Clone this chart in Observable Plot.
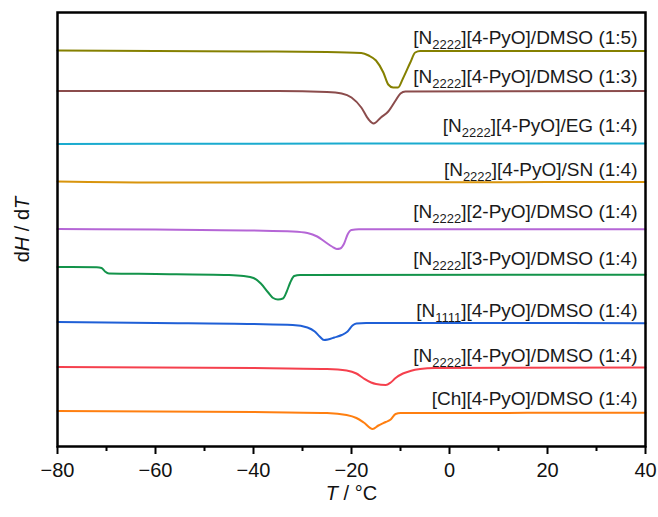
<!DOCTYPE html>
<html>
<head>
<meta charset="utf-8">
<script src="https://cdn.jsdelivr.net/npm/d3@7"></script>
<script src="https://cdn.jsdelivr.net/npm/@observablehq/plot@0.6"></script>
<style>
  body { margin: 0; background: #fff; }
  #chart svg { display: block; }
</style>
</head>
<body>
<div id="chart"></div>
<script>
// ---------- data (T in °C, dH/dT in arbitrary stacked units) ----------
const seriesKeys = ["DMSO15", "DMSO13", "EG14", "SN14", "P2_14", "P3_14", "N1111", "N2222", "Ch"];
const seriesColors = ["#858000", "#8b4c4c", "#1aabcf", "#d8940c", "#b566d6", "#13934a", "#1f5fd6", "#f5404d", "#ff7f10"];

const curveDMSO15 = [[-80,396],[-60,395.5],[-40,395],[-25,394.5],[-18,393.5],[-16.5,391],[-15,386],[-13.5,374],[-12.5,362],[-11.5,359],[-10.5,359],[-9.5,368],[-8,384],[-7,394],[-6,395.5],[40,395.5]];
const curveDMSO13 = [[-80,355.5],[-35,355.5],[-25,354.5],[-22,353],[-20,349],[-18,339],[-16.5,327],[-15.5,323],[-14,329],[-12.5,335],[-11,346],[-10,353],[-9,355],[40,355.5]];
const curveEG14 = [[-80,302.5],[-40,302.8],[0,303],[40,303]];
const curveSN14 = [[-80,265],[-60,264],[0,264.3],[40,264.5]];
const curveP2 = [[-80,217.5],[-60,217],[-40,216],[-32,215],[-29,213.5],[-27,210],[-25.5,205],[-24,200],[-23,197.5],[-22.3,198],[-21.5,203],[-20.8,212],[-20,216.5],[-18.5,217.2],[40,217.2]];
const curveP3 = [[-80,179.5],[-72,179.2],[-71,178.5],[-70.3,175],[-69.5,173],[-60,172.5],[-45,171.5],[-42,170.5],[-40,168.5],[-38.5,163],[-37,154],[-36,148.5],[-35,147],[-34,148],[-33.3,154],[-32.5,164],[-31.7,170.5],[-30.5,171.5],[40,171.7]];
const curveN1111 = [[-80,124.5],[-60,123.5],[-40,122.5],[-32,121.5],[-29,119],[-27.5,115],[-26.5,110],[-25.6,106.5],[-24.8,107],[-23.5,109],[-22,111.5],[-20.8,115],[-19.8,121],[-19,123],[-17,123.5],[40,123.3]];
const curveN2222 = [[-80,79.5],[-40,78.5],[-25,77.5],[-21,76],[-19,73],[-17.5,68],[-16,64],[-15,62.5],[-13,61.5],[-12,64],[-11,68.5],[-9.5,73],[-8,75.5],[-6,77.5],[-3,78.5],[40,79]];
const curveCh = [[-80,35.5],[-40,34.5],[-25,33.5],[-21,31.5],[-19,28.5],[-17.5,24],[-15.7,17.5],[-14.5,21],[-13,24.5],[-12,27],[-11,32.5],[-10,33.5],[40,33.7]];
const curves = [curveDMSO15, curveDMSO13, curveEG14, curveSN14, curveP2, curveP3, curveN1111, curveN2222, curveCh];

// label parts: prefix, subscript, suffix; label baseline in y units
const labelPrefix = ["[N", "[N", "[N", "[N", "[N", "[N", "[N", "[N", "[Ch][4-PyO]/DMSO (1:4)"];
const labelSub    = ["2222", "2222", "2222", "2222", "2222", "2222", "1111", "2222", ""];
const labelSuffix = ["][4-PyO]/DMSO (1:5)", "][4-PyO]/DMSO (1:3)", "][4-PyO]/EG (1:4)", "][4-PyO]/SN (1:4)", "][2-PyO]/DMSO (1:4)", "][3-PyO]/DMSO (1:4)", "][4-PyO]/DMSO (1:4)", "][4-PyO]/DMSO (1:4)", ""];
const labelY = [402.5, 363.5, 315, 270.5, 228.5, 181.5, 130, 85, 42];

const xDomain = [-80, 40];
const yDomain = [0, 434];
const xTicks = [-80, -60, -40, -20, 0, 20, 40];
const xMinorTicks = [-70, -50, -30, -10, 10, 30];
const xTitle = "T / °C";
const yTitle = "dH / dT";

// ---------- build ----------
const rows = curves.map((c, i) => c.map(([T, v]) => ({series: seriesKeys[i], T, v})));
const labels = labelPrefix.map((p, i) => ({full: p + labelSub[i] + labelSuffix[i], y: labelY[i], i}));

// rich text spec (for subscripts / italics), applied after render
const rich = new Map();
labels.forEach(d => {
  if (labelSub[d.i]) rich.set(d.full, [{t: labelPrefix[d.i]}, {t: labelSub[d.i], sub: true}, {t: labelSuffix[d.i]}]);
});
rich.set(xTitle, [{t: "T", it: true}, {t: " / °C"}]);
rich.set(yTitle, [{t: "d"}, {t: "H", it: true}, {t: " / d"}, {t: "T", it: true}]);

const FONT = "'Liberation Sans', Arial, Helvetica, sans-serif";

const chart = Plot.plot({
  width: 658,
  height: 517,
  marginLeft: 57,
  marginRight: 13,
  marginTop: 12,
  marginBottom: 71,
  style: {fontFamily: FONT, background: "white", color: "#000"},
  x: {domain: xDomain},
  y: {domain: yDomain, axis: null},
  marks: [
    ...rows.map((r, i) => Plot.line(r, {x: "T", y: "v", stroke: seriesColors[i], strokeWidth: 2, curve: "monotone-x"})),
    Plot.text(labels, {frameAnchor: "right", y: "y", text: "full", textAnchor: "end", lineAnchor: "bottom", dx: -8, fontSize: 19, fill: "#1a1a1a"}),
    Plot.frame({stroke: "#000", strokeWidth: 2.5}),
    Plot.axisX({ticks: xTicks, tickSize: 8, tickPadding: 8, fontSize: 20, strokeWidth: 2, tickFormat: d3.format("d"), label: null, fill: "#111"}),
    Plot.axisX({ticks: xMinorTicks, tickSize: 5, strokeWidth: 2, text: null, label: null}),
    Plot.text([xTitle], {frameAnchor: "bottom", dy: 53, lineAnchor: "bottom", textAnchor: "middle", fontSize: 20, fill: "#111"}),
    Plot.text([yTitle], {frameAnchor: "left", dx: -35, rotate: -90, lineAnchor: "middle", textAnchor: "middle", fontSize: 20, fill: "#111"})
  ]
});

// convert plain label text into tspans (subscripts, italics)
chart.querySelectorAll("text").forEach(el => {
  const spec = rich.get(el.textContent);
  if (!spec) return;
  el.textContent = "";
  let shift = 0;
  spec.forEach(part => {
    const ts = document.createElementNS("http://www.w3.org/2000/svg", "tspan");
    ts.textContent = part.t;
    const target = part.sub ? 5 : 0;
    if (target !== shift) { ts.setAttribute("dy", target - shift); shift = target; }
    if (part.sub) ts.setAttribute("font-size", 13);
    if (part.it) ts.setAttribute("font-style", "italic");
    el.appendChild(ts);
  });
});

document.getElementById("chart").appendChild(chart);
</script>
</body>
</html>
